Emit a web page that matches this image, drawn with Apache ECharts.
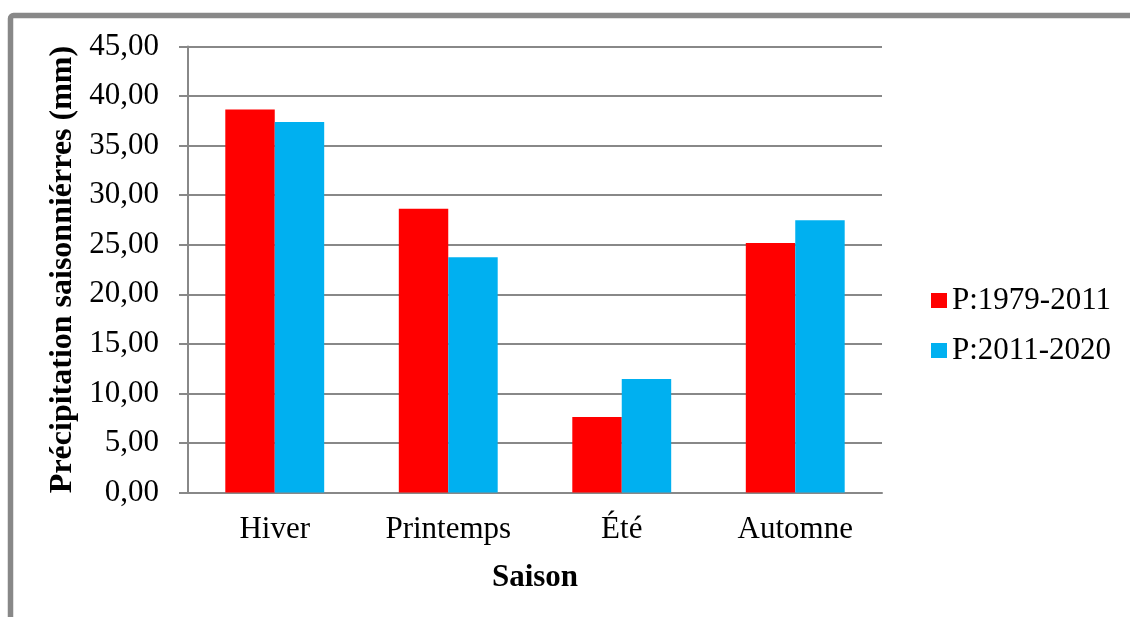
<!DOCTYPE html>
<html>
<head>
<meta charset="utf-8">
<script src="https://cdn.jsdelivr.net/npm/echarts@6/dist/echarts.min.js"></script>
<style>
html,body{margin:0;padding:0;background:#fff;}
#chart{width:1130px;height:617px;}
</style>
</head>
<body>
<div id="chart"></div>
<script>
const categories = ['Hiver', 'Printemps', 'Été', 'Automne'];
const seriesNames = ['P:1979-2011', 'P:2011-2020'];
const valuesP1 = [38.65, 28.63, 7.62, 25.17];
const valuesP2 = [37.38, 23.73, 11.45, 27.46];
const yTicks = { min: 0, max: 45, interval: 5 };

const FONT = '"Liberation Serif", "Times New Roman", serif';
const chart = echarts.init(document.getElementById('chart'), null, { renderer: 'canvas' });
chart.setOption({
  animation: false,
  backgroundColor: '#fff',
  textStyle: { fontFamily: FONT, color: '#000' },
  graphic: [{
    type: 'rect',
    shape: { x: 10.5, y: 15.5, width: 1300, height: 800, r: 3 },
    style: { fill: 'none', stroke: '#888888', lineWidth: 5.5 },
    silent: true
  }],
  grid: { left: 188, right: 248, top: 46.5, bottom: 124.5, containLabel: false },
  legend: {
    orient: 'vertical',
    left: 926,
    top: 280,
    itemWidth: 16,
    itemHeight: 15,
    itemGap: 19,
    icon: 'rect',
    textStyle: { fontFamily: FONT, fontSize: 31, color: '#000', lineHeight: 31 },
    data: seriesNames
  },
  xAxis: {
    type: 'category',
    data: categories,
    name: 'Saison',
    nameLocation: 'middle',
    nameGap: 70,
    nameTextStyle: { fontFamily: FONT, fontSize: 31, fontWeight: 'bold', color: '#000' },
    axisLine: { lineStyle: { color: '#888', width: 2 } },
    axisTick: { show: false },
    axisLabel: { fontFamily: FONT, fontSize: 31, color: '#000', margin: 22 }
  },
  yAxis: {
    type: 'value',
    min: yTicks.min,
    max: yTicks.max,
    interval: yTicks.interval,
    name: 'Précipitation saisonniérres (mm)',
    nameLocation: 'middle',
    nameGap: 96,
    nameTextStyle: { fontFamily: FONT, fontSize: 32, fontWeight: 'bold', color: '#000' },
    axisLine: { show: true, lineStyle: { color: '#888', width: 2 } },
    axisTick: { show: true, length: 9, lineStyle: { color: '#888', width: 2 } },
    splitLine: { lineStyle: { color: '#888', width: 2 } },
    axisLabel: {
      fontFamily: FONT, fontSize: 31, color: '#000', margin: 29,
      formatter: v => v.toFixed(2).replace('.', ',')
    }
  },
  series: [
    { name: seriesNames[0], type: 'bar', data: valuesP1, barGap: '0%', barCategoryGap: '43%',
      itemStyle: { color: '#FF0000' } },
    { name: seriesNames[1], type: 'bar', data: valuesP2, barGap: '0%', barCategoryGap: '43%',
      itemStyle: { color: '#00B0F0' } }
  ]
});
</script>
</body>
</html>
